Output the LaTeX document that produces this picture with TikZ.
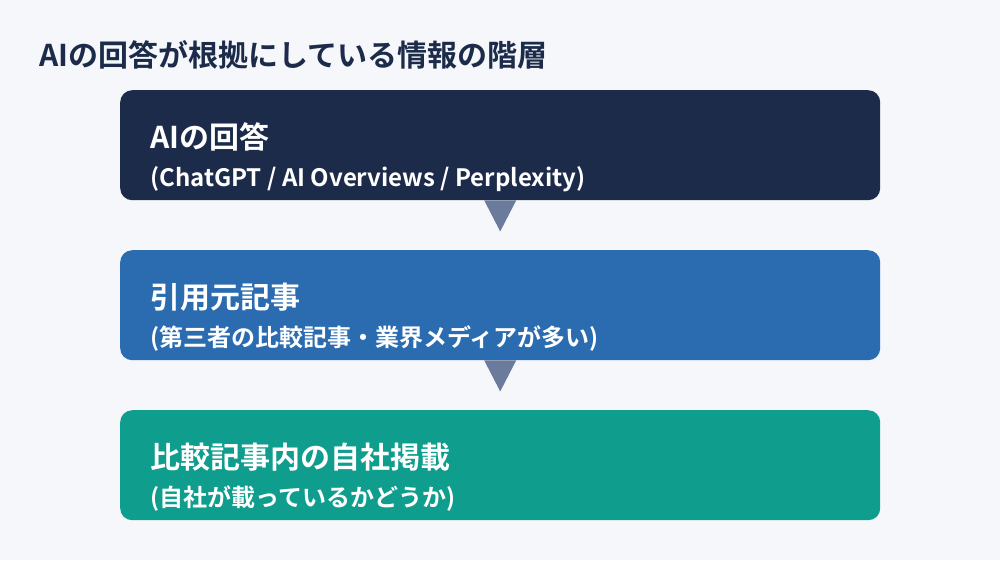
\documentclass[tikz,border=0pt]{standalone}
\usepackage{fontspec}
\usetikzlibrary{calc}
\newfontfamily\jpb{Noto Sans CJK JP Bold}
\definecolor{bg}{HTML}{F5F7FB}
\definecolor{navy}{HTML}{1C2B4A}
\definecolor{blue}{HTML}{2B6CB0}
\definecolor{teal}{HTML}{0F9D8E}
\definecolor{arr}{HTML}{6B7B9C}
\tikzset{
  layerbox/.style={rounded corners=12pt, inner sep=0pt, minimum width=760pt, minimum height=110pt, draw=none},
  headtxt/.style={anchor=base west, inner sep=0pt, text=white, font=\jpb\fontsize{30}{34}\selectfont},
  subtxt/.style={anchor=base west, inner sep=0pt, text=white, font=\jpb\fontsize{24}{28}\selectfont},
  tri/.style={fill=arr, draw=none}
}
\begin{document}
\begin{tikzpicture}[x=1pt,y=-1pt]
\fill[bg] (0,0) rectangle (1000,560);
\useasboundingbox (0,0) rectangle (1000,560);
\node[anchor=base west, inner sep=0pt, text=navy, font=\jpb\fontsize{30}{34}\selectfont] (title) at (39,66) {AIの回答が根拠にしている情報の階層};
\node[layerbox, fill=navy, anchor=north west] (b1) at (120,90) {};
\node[layerbox, fill=blue, anchor=north west] (b2) at (120,250) {};
\node[layerbox, fill=teal, anchor=north west] (b3) at (120,410) {};
\node[headtxt] (h1) at (150,148) {AIの回答};
\node[subtxt] (s1) at (150,186) {(ChatGPT / AI Overviews / Perplexity)};
\node[headtxt] (h2) at (150,308) {引用元記事};
\node[subtxt] (s2) at (150,346) {(第三者の比較記事・業界メディアが多い)};
\node[headtxt] (h3) at (150,468) {比較記事内の自社掲載};
\node[subtxt] (s3) at (150,506) {(自社が載っているかどうか)};
\coordinate (t1) at ($(b1.south)+(0,31)$);
\fill[tri] ($(b1.south)+(-16,0)$) -- ($(b1.south)+(16,0)$) -- (t1) -- cycle;
\coordinate (t2) at ($(b2.south)+(0,31)$);
\fill[tri] ($(b2.south)+(-16,0)$) -- ($(b2.south)+(16,0)$) -- (t2) -- cycle;
\end{tikzpicture}
\end{document}
